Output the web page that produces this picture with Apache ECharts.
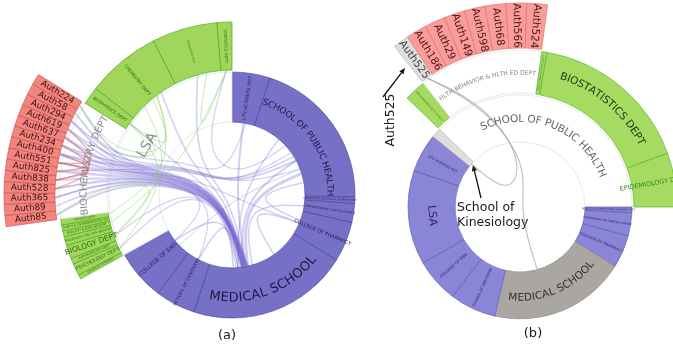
<!DOCTYPE html>
<html>
<head>
<meta charset="utf-8">
<script src="https://cdn.jsdelivr.net/npm/echarts@6/dist/echarts.min.js"></script>
<style>
html,body{margin:0;padding:0;background:#fff;}
#chart{width:673px;height:346px;}
</style>
</head>
<body>
<div id="chart"></div>
<script>
// ===== Panel (a): university units, LSA departments, Biochemistry authors =====
const unitsA = ['LIFE SCIENCES INST', 'SCHOOL OF PUBLIC HEALTH', 'MOLECULAR & BEHAVIORAL NEUROSCI INST',
  'COMPREHENSIVE CANCER CENTER', 'COLLEGE OF PHARMACY', 'MEDICAL SCHOOL', 'SCHOOL OF DENTISTRY',
  'COLLEGE OF ENG', 'LSA'];
const unitSizesA = [18, 73, 3, 9, 19, 76, 19, 24, 119];

const lsaDeptsA = ['COMPLEX SYSTEMS', 'PSYCHOLOGY DEPT', 'ANTHROPOLOGY DEPT', 'BIOLOGY DEPT',
  'MOLECULAR CELL DEV BIOLOGY', 'ECOLOGY & EVOL BIOLOGY', 'EARTH & ENVIRONMENTAL SCI', 'PHYSICS DEPT',
  'BIOCHEMISTRY DEPT', 'BIOPHYSICS DEPT', 'CHEMISTRY DEPT', 'MATHEMATICS DEPT', 'STATISTICS DEPT'];
const lsaDeptSizesA = [1.5, 4, 2, 4.5, 3, 2, 2, 2, 40, 6, 25, 22, 5];

const biochemAuthorsA = ['Auth85', 'Auth89', 'Auth365', 'Auth528', 'Auth838', 'Auth825', 'Auth551',
  'Auth400', 'Auth234', 'Auth637', 'Auth619', 'Auth294', 'Auth58', 'Auth224'];
const biochemAuthorSizesA = [2.85, 2.85, 2.85, 2.85, 2.85, 2.85, 2.85, 2.85, 2.85, 2.85, 2.85, 2.85, 2.85, 2.85];

// [source, position in source, target, position in target, weight]
const linksA = [
  ['Auth224', 0.5, 'MEDICAL SCHOOL', 0.62, 2],
  ['Auth58', 0.5, 'MEDICAL SCHOOL', 0.64, 1.5],
  ['Auth294', 0.5, 'MEDICAL SCHOOL', 0.60, 2.5],
  ['Auth619', 0.5, 'MEDICAL SCHOOL', 0.66, 2],
  ['Auth637', 0.5, 'MEDICAL SCHOOL', 0.63, 3],
  ['Auth234', 0.5, 'MEDICAL SCHOOL', 0.65, 2.5],
  ['Auth400', 0.5, 'MEDICAL SCHOOL', 0.61, 3],
  ['Auth551', 0.5, 'MEDICAL SCHOOL', 0.64, 2],
  ['Auth825', 0.5, 'MEDICAL SCHOOL', 0.67, 2.5],
  ['Auth838', 0.5, 'MEDICAL SCHOOL', 0.62, 2],
  ['Auth528', 0.5, 'MEDICAL SCHOOL', 0.66, 1.5],
  ['Auth365', 0.5, 'MEDICAL SCHOOL', 0.63, 2],
  ['Auth89', 0.5, 'MEDICAL SCHOOL', 0.65, 1.5],
  ['Auth85', 0.5, 'MEDICAL SCHOOL', 0.60, 2],
  ['Auth234', 0.5, 'SCHOOL OF PUBLIC HEALTH', 0.55, 1.5],
  ['Auth400', 0.5, 'SCHOOL OF PUBLIC HEALTH', 0.60, 2],
  ['Auth825', 0.5, 'SCHOOL OF PUBLIC HEALTH', 0.50, 1.2],
  ['Auth619', 0.5, 'SCHOOL OF PUBLIC HEALTH', 0.70, 1.2],
  ['Auth528', 0.5, 'COLLEGE OF ENG', 0.60, 1.2],
  ['Auth365', 0.5, 'SCHOOL OF DENTISTRY', 0.50, 1.2],
  ['Auth551', 0.5, 'COLLEGE OF PHARMACY', 0.50, 1.2],
  ['Auth294', 0.5, 'LIFE SCIENCES INST', 0.60, 1.2],
  ['SCHOOL OF PUBLIC HEALTH', 0.75, 'MEDICAL SCHOOL', 0.60, 3],
  ['SCHOOL OF PUBLIC HEALTH', 0.60, 'MEDICAL SCHOOL', 0.65, 2],
  ['SCHOOL OF PUBLIC HEALTH', 0.85, 'COLLEGE OF PHARMACY', 0.40, 1.5],
  ['SCHOOL OF PUBLIC HEALTH', 0.30, 'MEDICAL SCHOOL', 0.70, 1.5],
  ['LIFE SCIENCES INST', 0.5, 'MEDICAL SCHOOL', 0.62, 2],
  ['COLLEGE OF PHARMACY', 0.5, 'MEDICAL SCHOOL', 0.30, 1.5],
  ['COMPREHENSIVE CANCER CENTER', 0.5, 'MEDICAL SCHOOL', 0.55, 1.5],
  ['SCHOOL OF DENTISTRY', 0.5, 'MEDICAL SCHOOL', 0.75, 1.5],
  ['COLLEGE OF ENG', 0.6, 'MEDICAL SCHOOL', 0.70, 1.5],
  ['COLLEGE OF ENG', 0.4, 'SCHOOL OF PUBLIC HEALTH', 0.70, 1],
  ['CHEMISTRY DEPT', 0.7, 'MEDICAL SCHOOL', 0.65, 1.5],
  ['MATHEMATICS DEPT', 0.5, 'MEDICAL SCHOOL', 0.63, 1.5],
  ['STATISTICS DEPT', 0.5, 'SCHOOL OF PUBLIC HEALTH', 0.40, 1.2],
  ['BIOPHYSICS DEPT', 0.5, 'MEDICAL SCHOOL', 0.66, 1.2],
  ['BIOLOGY DEPT', 0.5, 'MEDICAL SCHOOL', 0.70, 1.2],
  ['PSYCHOLOGY DEPT', 0.5, 'MEDICAL SCHOOL', 0.72, 1.2],
  ['CHEMISTRY DEPT', 0.3, 'BIOLOGY DEPT', 0.5, 1],
  ['CHEMISTRY DEPT', 0.5, 'BIOPHYSICS DEPT', 0.5, 1],
  ['MATHEMATICS DEPT', 0.7, 'STATISTICS DEPT', 0.5, 1],
  ['BIOPHYSICS DEPT', 0.5, 'PSYCHOLOGY DEPT', 0.5, 1],
  ['CHEMISTRY DEPT', 0.6, 'PHYSICS DEPT', 0.5, 1],
  ['STATISTICS DEPT', 0.5, 'ECOLOGY & EVOL BIOLOGY', 0.5, 1],
  ['Auth224', 0.5, 'CHEMISTRY DEPT', 0.6, 1],
  ['Auth58', 0.5, 'BIOPHYSICS DEPT', 0.5, 1],
  ['Auth85', 0.5, 'BIOLOGY DEPT', 0.5, 1],
  ['Auth637', 0.5, 'Auth825', 0.5, 1.5],
  ['Auth551', 0.5, 'Auth838', 0.5, 1.5],
  ['Auth400', 0.5, 'Auth528', 0.5, 1.2],
  ['Auth619', 0.5, 'Auth551', 0.5, 1.2],
  ['Auth234', 0.5, 'Auth838', 0.5, 1.2]
];

// ===== Panel (b): School of Public Health expanded, HBHE authors =====
const unitsB = ['SCHOOL OF PUBLIC HEALTH', 'MOLECULAR & BEHAVIORAL NEUROSCI INST', 'COMPREHENSIVE CANCER CENTER',
  'COLLEGE OF PHARMACY', 'MEDICAL SCHOOL', 'SCHOOL OF DENTISTRY', 'COLLEGE OF ENG', 'LSA',
  'LIFE SCIENCES INST', 'SCHOOL OF KINESIOLOGY'];
const unitSizesB = [136, 3, 12, 17, 71, 24, 23, 49, 20, 5];

const sphDeptsB = ['ENVIRONMENTAL HLTH SCI DEPT', 'HLTH BEHAVIOR & HLTH ED DEPT', 'HEALTH MGMT & POLICY DEPT',
  'BIOSTATISTICS DEPT', 'EPIDEMIOLOGY DEPT'];
const sphDeptSizesB = [8, 46, 2, 60, 20];

const hbheAuthorsB = ['Auth525', 'Auth186', 'Auth29', 'Auth149', 'Auth598', 'Auth68', 'Auth566', 'Auth524'];
const hbheAuthorSizesB = [4.5, 5.9, 5.9, 5.9, 5.9, 5.9, 5.9, 5.9];

const linksB = [
  ['Auth525', 0.5, 'MEDICAL SCHOOL', 0.6, 1.1],
  ['Auth525', 0.5, 'SCHOOL OF KINESIOLOGY', 0.5, 1.1]
];

// ===== Layout & style settings =====
const FONT = 'DejaVu Sans';
const centerA = [232, 195], centerB = [520, 207];
const ringsA = {1: [73, 123], 2: [125, 173], 3: [177, 228]};
const ringsB = {1: [65, 112], 2: [114, 157], 3: [159, 204]};
const bundleA = {0: 0, 1: 50, 2: 118};
const bundleB = {0: 0, 1: 45, 2: 105};
const BETA_A = 0.78, BETA_B = 0.85;

function buildTree(names, sizes, expand) {
  return names.map((n, i) => {
    const node = {name: n, value: sizes[i]};
    if (expand[n]) node.children = buildTree(expand[n][0], expand[n][1], expand);
    return node;
  });
}
const treeA = buildTree(unitsA, unitSizesA, {
  'LSA': [lsaDeptsA, lsaDeptSizesA],
  'BIOCHEMISTRY DEPT': [biochemAuthorsA, biochemAuthorSizesA]
});
const treeB = buildTree(unitsB, unitSizesB, {
  'SCHOOL OF PUBLIC HEALTH': [sphDeptsB, sphDeptSizesB],
  'HLTH BEHAVIOR & HLTH ED DEPT': [hbheAuthorsB, hbheAuthorSizesB]
});

// angular extent of every node, same rule the sunburst uses (clockwise from startDeg)
function layoutTree(tree, startDeg) {
  const total = tree.reduce((s, n) => s + n.value, 0);
  const info = {};
  (function walk(nodes, start, depth, parent) {
    let cur = start;
    nodes.forEach(n => {
      const span = n.value / total * 360;
      info[n.name] = {start: cur, end: cur - span, mid: cur - span / 2, depth: depth, parent: parent};
      if (n.children) walk(n.children, cur, depth + 1, n.name);
      cur -= span;
    });
  })(tree, startDeg, 1, null);
  return info;
}
const START_A = 90, START_B = 136;
const infoA = layoutTree(treeA, START_A);
const infoB = layoutTree(treeB, START_B);

const norm = a => ((a % 360) + 360) % 360;

// ----- node styles -----
const hollow = {color: '#ffffff', borderColor: '#e3e3e3', borderWidth: 0.8};
const blueA = {color: '#7770c7', borderColor: '#443d98', borderWidth: 0.6};
const greenA = {color: '#a0d75a', borderColor: '#4faa22', borderWidth: 0.7};
const redA = {color: '#f3857f', borderColor: '#c44e49', borderWidth: 0.6};
const blueB = {color: '#8a85d6', borderColor: '#5a54b0', borderWidth: 0.6};
const greenB = {color: '#a6db62', borderColor: '#5cb52d', borderWidth: 0.7};
const redB = {color: '#f99c9a', borderColor: '#d2706d', borderWidth: 0.6};
const grayDark = {color: '#aaa6a1', borderColor: '#8d8984', borderWidth: 0.6};
const grayLight = {color: '#dedede', borderColor: '#b5b5b5', borderWidth: 0.6};

const labelSizeA = {
  'LIFE SCIENCES INST': 4.5, 'MOLECULAR & BEHAVIORAL NEUROSCI INST': 2.4, 'COMPREHENSIVE CANCER CENTER': 3,
  'COLLEGE OF PHARMACY': 5, 'SCHOOL OF DENTISTRY': 4.5, 'COLLEGE OF ENG': 5.5,
  'COMPLEX SYSTEMS': 3, 'PSYCHOLOGY DEPT': 5, 'ANTHROPOLOGY DEPT': 3, 'BIOLOGY DEPT': 7.5,
  'MOLECULAR CELL DEV BIOLOGY': 3, 'ECOLOGY & EVOL BIOLOGY': 3, 'EARTH & ENVIRONMENTAL SCI': 3,
  'PHYSICS DEPT': 3, 'BIOPHYSICS DEPT': 4.5, 'CHEMISTRY DEPT': 4.5, 'MATHEMATICS DEPT': 2.4,
  'STATISTICS DEPT': 4
};
const labelSizeB = {
  'MOLECULAR & BEHAVIORAL NEUROSCI INST': 2.4, 'COMPREHENSIVE CANCER CENTER': 2.8, 'COLLEGE OF PHARMACY': 3.8,
  'SCHOOL OF DENTISTRY': 3.6, 'COLLEGE OF ENG': 4, 'LIFE SCIENCES INST': 3.4,
  'ENVIRONMENTAL HLTH SCI DEPT': 2.4, 'HEALTH MGMT & POLICY DEPT': 2.4, 'EPIDEMIOLOGY DEPT': 6.5
};

// labels that follow the arc, drawn letter by letter
const arcLabelsA = [
  {name: 'SCHOOL OF PUBLIC HEALTH', r: 98, size: 8.8, color: '#1d1947', dir: 'cw'},
  {name: 'MEDICAL SCHOOL', r: 103, size: 13, color: '#1d1947', dir: 'ccw'},
  {name: 'BIOCHEMISTRY DEPT', r: 148, size: 9.8, color: '#8a8a8a', dir: 'cw'}
];
const arcLabelsB = [
  {name: 'SCHOOL OF PUBLIC HEALTH', r: 88, size: 10.5, color: '#666666', dir: 'cw'},
  {name: 'HLTH BEHAVIOR & HLTH ED DEPT', r: 134, size: 6, color: '#808080', dir: 'cw'},
  {name: 'BIOSTATISTICS DEPT', r: 137, size: 10.5, color: '#1f3414', dir: 'cw'},
  {name: 'MEDICAL SCHOOL', r: 91, size: 10.5, color: '#333333', dir: 'ccw'}
];
const arcNamesA = arcLabelsA.map(l => l.name);
const arcNamesB = arcLabelsB.map(l => l.name);

function styleA(name, depth) {
  if (depth === 1) {
    if (name === 'LSA') return {item: hollow, label: {rotate: 'tangential', fontSize: 14, color: '#8c8c8c'}};
    return {item: blueA, label: {show: !arcNamesA.includes(name), fontSize: labelSizeA[name] || 4, color: '#221d58'}};
  }
  if (depth === 2) {
    if (name === 'BIOCHEMISTRY DEPT') return {item: hollow, label: {show: false}};
    return {item: greenA, label: {fontSize: labelSizeA[name] || 3, color: '#2b6a12'}};
  }
  return {item: redA, label: {fontSize: 8.8, color: '#3a1010'}};
}
function styleB(name, depth) {
  if (depth === 1) {
    if (name === 'SCHOOL OF PUBLIC HEALTH') return {item: hollow, label: {show: false}};
    if (name === 'MEDICAL SCHOOL') return {item: grayDark, label: {show: false}};
    if (name === 'SCHOOL OF KINESIOLOGY') return {item: grayLight, label: {show: false}};
    // reads top to bottom along the arc
    if (name === 'LSA') return {item: blueB, label: {rotate: infoB[name].mid - 270, fontSize: 11, color: '#2b2566'}};
    return {item: blueB, label: {fontSize: labelSizeB[name] || 3, color: '#2b2566'}};
  }
  if (depth === 2) {
    if (name === 'HLTH BEHAVIOR & HLTH ED DEPT') return {item: hollow, label: {show: false}};
    if (arcNamesB.includes(name)) return {item: greenB, label: {show: false}};
    const c = name === 'EPIDEMIOLOGY DEPT' ? '#2f8f1d' : '#2b7a12';
    return {item: greenB, label: {fontSize: labelSizeB[name] || 3, color: c}};
  }
  const rot = infoB[name].mid - 180;
  return {item: name === 'Auth525' ? grayLight : redB,
    label: {rotate: rot, fontSize: 10.5, color: name === 'Auth525' ? '#444444' : '#4a1616'}};
}
function styleTree(nodes, depth, st) {
  return nodes.map(n => {
    const s = st(n.name, depth);
    const item = {name: n.name, value: n.value, itemStyle: s.item, label: s.label};
    if (n.children) item.children = styleTree(n.children, depth + 1, st);
    return item;
  });
}

// ----- edge geometry (hierarchical bundling through the tree) -----
function buildEdges(links, info, rings, bundleR, colorFn) {
  const ancestors = name => {
    const list = [];
    let p = info[name].parent;
    while (p) { list.push(p); p = info[p].parent; }
    list.push(null);
    return list;
  };
  const ctrlOf = name => name === null ? [0, 0] : [bundleR[info[name].depth], info[name].mid];
  const anchor = (name, f) => {
    const n = info[name];
    return [rings[n.depth][0], n.start + (n.end - n.start) * f];
  };
  return links.map(([s, sf, t, tf, w]) => {
    const sa = ancestors(s), ta = ancestors(t);
    const lca = sa.find(x => ta.includes(x));
    const up = sa.slice(0, sa.indexOf(lca) + 1);
    const down = ta.slice(0, ta.indexOf(lca)).reverse();
    const ctrl = [anchor(s, sf)].concat(up.map(ctrlOf), down.map(ctrlOf), [anchor(t, tf)]);
    return {ctrl: ctrl, w: w, color: colorFn(info[s].depth, info[t].depth)};
  });
}
const edgesA = buildEdges(linksA, infoA, ringsA, bundleA, (ds, dt) => {
  if (ds === 1 || dt === 1) return 'rgba(108,96,205,0.30)';
  if (ds === 3 && dt === 3) return 'rgba(226,84,84,0.50)';
  return 'rgba(140,208,112,0.50)';
});
const edgesB = buildEdges(linksB, infoB, ringsB, bundleB, () => 'rgba(160,160,160,0.7)');

function straighten(p, beta) {
  const n = p.length - 1, a = p[0], b = p[n];
  return p.map((q, i) => (i === 0 || i === n) ? q :
    [beta * q[0] + (1 - beta) * (a[0] + (b[0] - a[0]) * i / n),
     beta * q[1] + (1 - beta) * (a[1] + (b[1] - a[1]) * i / n)]);
}
// uniform cubic B-spline (clamped ends), sampled into a polyline
function basisPoints(p, seg) {
  const n = p.length;
  if (n < 3) return p;
  const out = [p[0]];
  let cur = [(5 * p[0][0] + p[1][0]) / 6, (5 * p[0][1] + p[1][1]) / 6];
  out.push(cur);
  const bez = (x0, x1, x) => {
    const c1 = [(2 * x0[0] + x1[0]) / 3, (2 * x0[1] + x1[1]) / 3];
    const c2 = [(x0[0] + 2 * x1[0]) / 3, (x0[1] + 2 * x1[1]) / 3];
    const e = [(x0[0] + 4 * x1[0] + x[0]) / 6, (x0[1] + 4 * x1[1] + x[1]) / 6];
    for (let k = 1; k <= seg; k++) {
      const t = k / seg, u = 1 - t;
      out.push([
        u * u * u * cur[0] + 3 * u * u * t * c1[0] + 3 * u * t * t * c2[0] + t * t * t * e[0],
        u * u * u * cur[1] + 3 * u * u * t * c1[1] + 3 * u * t * t * c2[1] + t * t * t * e[1]
      ]);
    }
    cur = e;
  };
  for (let k = 2; k < n; k++) bez(p[k - 2], p[k - 1], p[k]);
  bez(p[n - 2], p[n - 1], p[n - 1]);
  out.push(p[n - 1]);
  return out;
}
function edgeRenderer(edges, beta) {
  return function (params, api) {
    const e = edges[params.dataIndex];
    const pts = e.ctrl.map(c => api.coord([c[0], norm(c[1])]));
    return {
      type: 'polyline', silent: true,
      shape: {points: basisPoints(straighten(pts, beta), 12)},
      style: {stroke: e.color, lineWidth: e.w, fill: null}
    };
  };
}

// ----- arc text -----
const measureCtx = document.createElement('canvas').getContext('2d');
function charWidths(text, size) {
  measureCtx.font = size + 'px "' + FONT + '"';
  return Array.from(text).map(c => measureCtx.measureText(c).width);
}
function arcLabelRenderer(specs, info) {
  return function (params, api) {
    const sp = specs[params.dataIndex];
    const mid = info[sp.name].mid;
    const chars = Array.from(sp.name);
    const ws = charWidths(sp.name, sp.size);
    const total = ws.reduce((a, b) => a + b, 0);
    const spanDeg = total / sp.r * 180 / Math.PI;
    let acc = 0;
    const children = chars.map((ch, i) => {
      const off = (acc + ws[i] / 2) / sp.r * 180 / Math.PI;
      acc += ws[i];
      const a = sp.dir === 'cw' ? mid + spanDeg / 2 - off : mid - spanDeg / 2 + off;
      const p = api.coord([sp.r, norm(a)]);
      const rot = (sp.dir === 'cw' ? a - 90 : a + 90) * Math.PI / 180;
      return {
        type: 'text', x: p[0], y: p[1], rotation: rot, silent: true,
        style: {text: ch, fill: sp.color, fontSize: sp.size, fontFamily: FONT,
          align: 'center', verticalAlign: 'middle'}
      };
    });
    return {type: 'group', children: children};
  };
}

// ----- annotation arrows -----
function arrow(x1, y1, x2, y2) {
  const a = Math.atan2(y2 - y1, x2 - x1), L = 6, W = 2.6;
  const bx = x2 - L * Math.cos(a), by = y2 - L * Math.sin(a);
  return [
    {type: 'line', shape: {x1: x1, y1: y1, x2: bx, y2: by}, style: {stroke: '#111', lineWidth: 1.3}},
    {type: 'polygon', shape: {points: [[x2, y2],
      [bx + W * Math.sin(a), by - W * Math.cos(a)], [bx - W * Math.sin(a), by + W * Math.cos(a)]]},
      style: {fill: '#111'}}
  ];
}
function note(text, x, y, size, align, extra) {
  return Object.assign({
    type: 'text', x: x, y: y,
    style: {text: text, font: size + 'px "' + FONT + '"', fill: '#1a1a1a',
      align: align, verticalAlign: 'middle', textAlign: align, textVerticalAlign: 'middle'}
  }, extra || {});
}

const sunburstBase = {
  type: 'sunburst', nodeClick: false, silent: true, z: 2,
  sort: (a, b) => a.dataIndex - b.dataIndex,
  emphasis: {disabled: true},
  label: {show: true, rotate: 'radial', fontFamily: FONT, align: 'center'},
  itemStyle: {borderColor: '#fff', borderWidth: 0.6}
};

const chart = echarts.init(document.getElementById('chart'), null, {renderer: 'canvas'});
chart.setOption({
  animation: false,
  backgroundColor: '#ffffff',
  textStyle: {fontFamily: FONT},
  polar: [
    {center: centerA, radius: [0, ringsA[3][1]]},
    {center: centerB, radius: [0, ringsB[3][1]]}
  ],
  radiusAxis: [
    {polarIndex: 0, type: 'value', min: 0, max: ringsA[3][1], show: false},
    {polarIndex: 1, type: 'value', min: 0, max: ringsB[3][1], show: false}
  ],
  angleAxis: [
    {polarIndex: 0, type: 'value', min: 0, max: 360, startAngle: 0, clockwise: false, show: false,
      splitLine: {show: false}, axisLine: {show: false}},
    {polarIndex: 1, type: 'value', min: 0, max: 360, startAngle: 0, clockwise: false, show: false,
      splitLine: {show: false}, axisLine: {show: false}}
  ],
  series: [
    Object.assign({}, sunburstBase, {
      center: centerA, radius: [0, ringsA[3][1]], startAngle: START_A,
      levels: [{}, {r0: ringsA[1][0], r: ringsA[1][1]}, {r0: ringsA[2][0], r: ringsA[2][1]}, {r0: ringsA[3][0], r: ringsA[3][1]}],
      data: styleTree(treeA, 1, styleA)
    }),
    Object.assign({}, sunburstBase, {
      center: centerB, radius: [0, ringsB[3][1]], startAngle: START_B,
      levels: [{}, {r0: ringsB[1][0], r: ringsB[1][1]}, {r0: ringsB[2][0], r: ringsB[2][1]}, {r0: ringsB[3][0], r: ringsB[3][1]}],
      data: styleTree(treeB, 1, styleB)
    }),
    {
      type: 'custom', coordinateSystem: 'polar', polarIndex: 0, z: 3, silent: true,
      renderItem: edgeRenderer(edgesA, BETA_A),
      data: edgesA.map(e => [e.ctrl[0][0], norm(e.ctrl[0][1])])
    },
    {
      type: 'custom', coordinateSystem: 'polar', polarIndex: 1, z: 3, silent: true,
      renderItem: edgeRenderer(edgesB, BETA_B),
      data: edgesB.map(e => [e.ctrl[0][0], norm(e.ctrl[0][1])])
    },
    {
      type: 'custom', coordinateSystem: 'polar', polarIndex: 0, z: 4, silent: true,
      renderItem: arcLabelRenderer(arcLabelsA, infoA),
      data: arcLabelsA.map(l => [l.r, norm(infoA[l.name].mid)])
    },
    {
      type: 'custom', coordinateSystem: 'polar', polarIndex: 1, z: 4, silent: true,
      renderItem: arcLabelRenderer(arcLabelsB, infoB),
      data: arcLabelsB.map(l => [l.r, norm(infoB[l.name].mid)])
    }
  ],
  graphic: [
    note('(a)', 227, 336, 13, 'center'),
    note('(b)', 533, 334, 13, 'center'),
    note('Auth525', 391, 120, 12.5, 'center', {rotation: Math.PI / 2}),
    note('School of', 457, 208, 12.5, 'left'),
    note('Kinesiology', 457, 223, 12.5, 'left')
  ].concat(arrow(383, 97, 405, 68), arrow(481, 198, 473, 165))
});
</script>
</body>
</html>
